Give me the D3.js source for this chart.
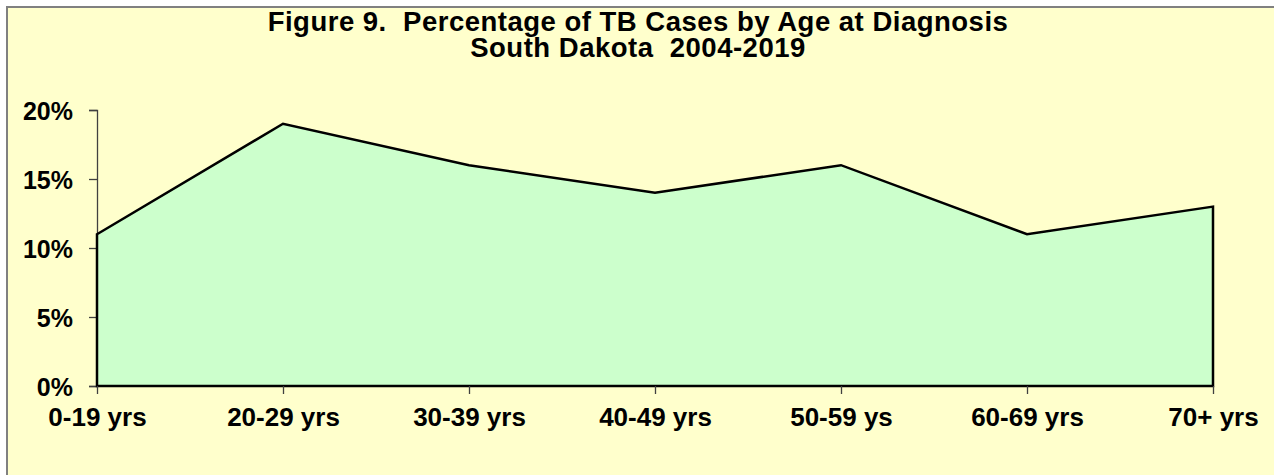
<!DOCTYPE html>
<meta charset="utf-8">
<style>
body { margin: 0; background: #fff; }
text { font-family: Arial, "Liberation Sans", sans-serif; font-weight: bold; fill: #000; white-space: pre; }
</style>
<body>
<script src="https://cdn.jsdelivr.net/npm/d3@7"></script>
<script>

// data
var ageGroups = ["0-19 yrs", "20-29 yrs", "30-39 yrs", "40-49 yrs", "50-59 ys", "60-69 yrs", "70+ yrs"];
var pctCases = [11, 19, 16, 14, 16, 11, 13];
var yTicks = [0, 5, 10, 15, 20];
var titleLines = ["Figure 9.  Percentage of TB Cases by Age at Diagnosis", "South Dakota  2004-2019"];

var W = 1274, H = 475;
var plot = {left: 97, right: 1213, top: 110, bottom: 386};

var svg = d3.select("body").append("svg")
    .attr("width", W)
    .attr("height", H);

// chart background + frame (runs off the right/bottom edge)
svg.append("rect")
    .attr("x", 7).attr("y", 7)
    .attr("width", W + 20).attr("height", H + 20)
    .attr("fill", "#ffffcc")
    .attr("stroke", "#808080")
    .attr("stroke-width", 2);

// title, two lines in one text block
svg.append("text")
    .attr("class", "title")
    .attr("text-anchor", "middle")
    .style("font-size", "27.5px")
    .style("letter-spacing", "0.5px")
    .selectAll("tspan")
    .data(titleLines)
    .enter().append("tspan")
    .attr("x", 638)
    .attr("y", function(d, i) { return 31 + i * 26; })
    .text(function(d) { return d; });

var x = d3.scalePoint()
    .domain(ageGroups)
    .range([plot.left, plot.right]);

var y = d3.scaleLinear()
    .domain([0, 20])
    .range([plot.bottom, plot.top]);

// y axis
var yAxis = svg.append("g")
    .attr("transform", "translate(" + plot.left + ",0)")
    .call(d3.axisLeft(y).tickValues(yTicks).tickSize(8).tickPadding(16)
      .tickFormat(function(d) { return d + "%"; }));
yAxis.select(".domain").attr("stroke", "#404040").attr("stroke-width", 1.3);
yAxis.selectAll(".tick line").attr("stroke", "#404040").attr("stroke-width", 1.3);
yAxis.selectAll(".tick text")
    .style("font-size", "25px")
    .style("font-family", "Arial, 'Liberation Sans', sans-serif")
    .attr("dy", "0.36em");

// area
var area = d3.area()
    .x(function(d, i) { return x(ageGroups[i]); })
    .y0(y(0))
    .y1(function(d) { return y(d); });

svg.append("path")
    .datum(pctCases)
    .attr("d", area)
    .attr("fill", "#ccffcc")
    .attr("stroke", "#000")
    .attr("stroke-width", 2.5)
    .attr("stroke-linejoin", "miter");

// x axis
var xAxis = svg.append("g")
    .attr("transform", "translate(0," + plot.bottom + ")")
    .call(d3.axisBottom(x).tickSize(8).tickPadding(14));
xAxis.select(".domain").remove();
xAxis.selectAll(".tick line").attr("stroke", "#404040").attr("stroke-width", 1.3);
xAxis.selectAll(".tick text")
    .style("font-size", "26px")
    .style("font-family", "Arial, 'Liberation Sans', sans-serif");

</script>
</body>
